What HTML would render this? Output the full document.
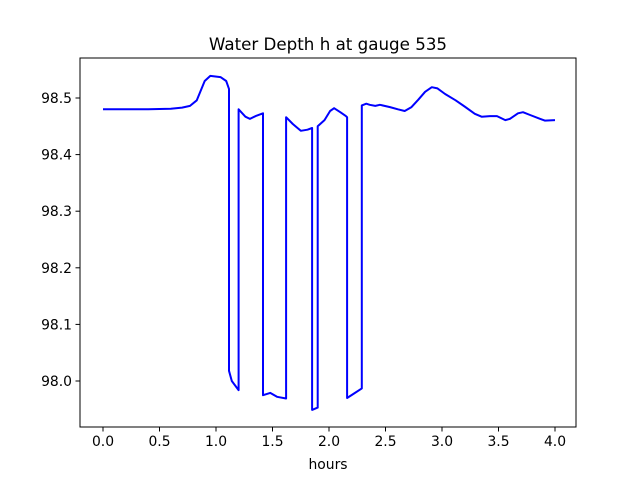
<!DOCTYPE html>
<html><head><meta charset="utf-8"><style>
body{margin:0;background:#fff;font-family:"Liberation Sans","DejaVu Sans",sans-serif}
svg text{font-family:"DejaVu Sans","Liberation Sans",sans-serif;font-size:13.9px;fill:#000}
</style></head><body>
<svg id="chart" width="640" height="480">
<rect width="640" height="480" fill="#fff"/>
<text x="328" y="50" text-anchor="middle" style="font-size:16.7px">Water Depth h at gauge 535</text>
<text x="328" y="469" text-anchor="middle">hours</text>
<g id="ticks"></g>
<path id="line" fill="none" stroke="#0000ff" stroke-width="2" stroke-linejoin="round"/>
<rect x="80" y="58" width="496" height="369" fill="none" stroke="#000" stroke-width="1"/>
</svg>
<script>
const hours=[0,0.4,0.6,0.7,0.77,0.83,0.9,0.95,1.04,1.09,1.115,1.115,1.14,1.2,1.2,1.26,1.3,1.35,1.416,1.416,1.48,1.54,1.62,1.62,1.68,1.75,1.81,1.85,1.85,1.9,1.9,1.96,2.01,2.045,2.1,2.15,2.16,2.16,2.23,2.29,2.29,2.33,2.36,2.41,2.45,2.54,2.61,2.67,2.73,2.79,2.85,2.91,2.96,3.027,3.12,3.2,3.29,3.35,3.425,3.487,3.56,3.6,3.673,3.717,3.78,3.87,3.91,4.0];
const depth=[98.48,98.48,98.481,98.483,98.486,98.496,98.53,98.539,98.537,98.53,98.516,98.018,98.0,97.984,98.48,98.467,98.463,98.468,98.473,97.975,97.979,97.972,97.969,98.466,98.454,98.442,98.444,98.447,97.949,97.953,98.45,98.461,98.477,98.482,98.475,98.468,98.466,97.97,97.979,97.987,98.487,98.49,98.488,98.486,98.488,98.484,98.48,98.477,98.484,98.497,98.511,98.519,98.517,98.507,98.496,98.485,98.472,98.467,98.468,98.468,98.461,98.463,98.473,98.475,98.47,98.463,98.46,98.461];
const xTicks=[0,0.5,1,1.5,2,2.5,3,3.5,4];
const yTicks=[98.0,98.1,98.2,98.3,98.4,98.5];
const X=v=>103+v*113, Y=v=>98-(v-98.5)*566;
const ns="http://www.w3.org/2000/svg";
const g=document.getElementById('ticks');
function mk(t,a){const e=document.createElementNS(ns,t);for(const k in a)e.setAttribute(k,a[k]);g.appendChild(e);return e;}
xTicks.forEach(v=>{
 const l=mk('line',{x1:X(v),x2:X(v),y1:427,y2:431.5,stroke:'#000','stroke-width':1});
 
 
 const t=mk('text',{x:X(v),y:446,'text-anchor':'middle'});t.textContent=v.toFixed(1);
 
 
});
yTicks.forEach(v=>{
 const l=mk('line',{x1:75.5,x2:80,y1:Y(v),y2:Y(v),stroke:'#000','stroke-width':1});
 
 
 const t=mk('text',{x:72,y:Y(v)+5,'text-anchor':'end'});t.textContent=v.toFixed(1);
 
 
});
document.getElementById('line').setAttribute('d',hours.map((h,i)=>(i?'L':'M')+X(h).toFixed(1)+','+Y(depth[i]).toFixed(1)).join(''));
</script>
</body></html>
